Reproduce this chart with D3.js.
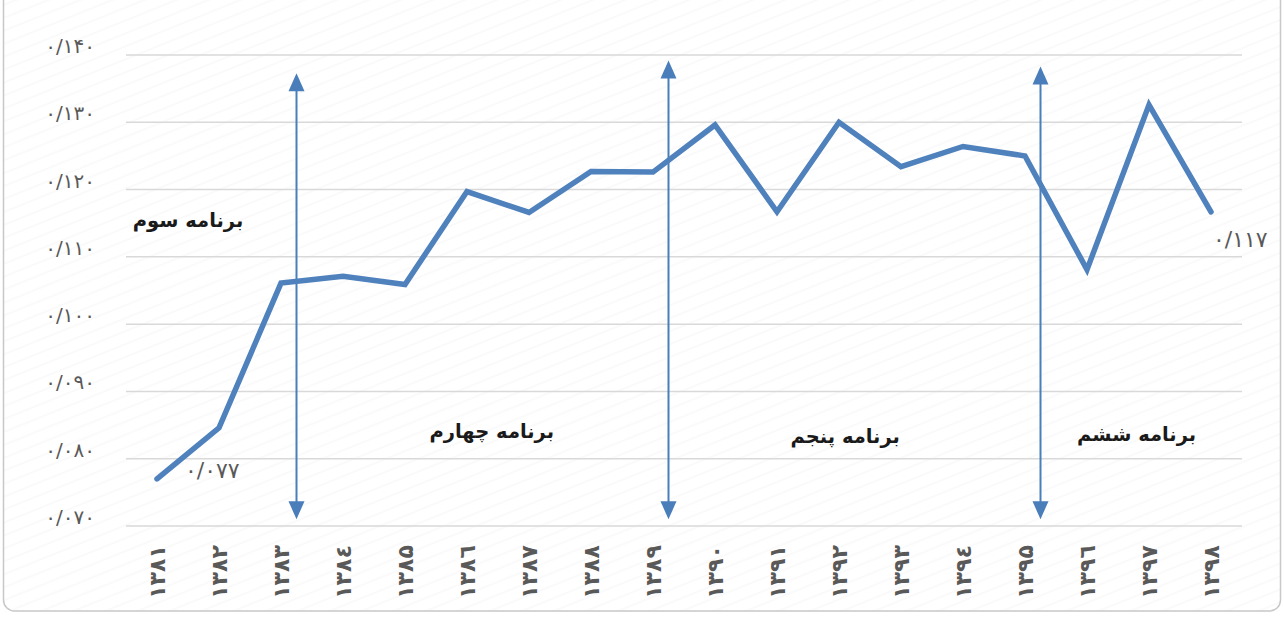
<!DOCTYPE html>
<html>
<head>
<meta charset="utf-8">
<script src="https://cdnjs.cloudflare.com/ajax/libs/d3/7.8.5/d3.min.js"></script>
<style>
  body { margin: 0; background: #fff; }
  text { font-family: "DejaVu Sans", sans-serif; }
</style>
</head>
<body>
<div id="vis"></div>
<script>
// years (Persian calendar)
const years = ["۱۳۸۱", "۱۳۸۲", "۱۳۸۳", "۱۳۸٤", "۱۳۸۵", "۱۳۸٦", "۱۳۸۷", "۱۳۸۸", "۱۳۸۹",
               "۱۳۹۰", "۱۳۹۱", "۱۳۹۲", "۱۳۹۳", "۱۳۹٤", "۱۳۹۵", "۱۳۹٦", "۱۳۹۷", "۱۳۹۸"];
const values = [0.077, 0.0846, 0.1061, 0.1071, 0.1059, 0.1197, 0.1166, 0.1227, 0.1226,
                0.1296, 0.1167, 0.1300, 0.1234, 0.1264, 0.1250, 0.1081, 0.1326, 0.1167];
const yTicks = [0.07, 0.08, 0.09, 0.10, 0.11, 0.12, 0.13, 0.14];
const yTickLabels = ["۰/۰۷۰", "۰/۰۸۰", "۰/۰۹۰", "۰/۱۰۰", "۰/۱۱۰", "۰/۱۲۰", "۰/۱۳۰", "۰/۱۴۰"];

// plan boundaries: arrow after year index, top value, bottom value
const arrowAfter = [2, 8, 14];
const arrowTop = [0.1373, 0.1392, 0.1383];
const arrowBottom = [0.0710, 0.0710, 0.0710];

// plan names, placed at (year position, value)
const planNames = ["برنامه سوم", "برنامه چهارم", "برنامه پنجم", "برنامه ششم"];
const planPos = [0.5, 5.4, 11.1, 15.8];
const planVal = [0.1154, 0.0841, 0.0834, 0.0837];

// data labels for first and last point
const endLabels = ["۰/۰۷۷", "۰/۱۱۷"];

const W = 1284, H = 624;
const margin = { top: 55, right: 42, bottom: 98, left: 126 },
    width = W - margin.left - margin.right,
    height = H - margin.top - margin.bottom;

const svgRoot = d3.select("#vis").append("svg")
    .attr("width", W).attr("height", H);

// faint diagonal hatch in the background
const defs = svgRoot.append("defs");
defs.append("pattern")
    .attr("id", "hatch")
    .attr("patternUnits", "userSpaceOnUse")
    .attr("width", 12).attr("height", 12)
    .attr("patternTransform", "rotate(-22)")
    .append("line")
    .attr("x1", 0).attr("y1", 6).attr("x2", 12).attr("y2", 6)
    .attr("stroke", "#f5f5f5").attr("stroke-width", 1);

svgRoot.append("rect")
    .attr("x", 3.5).attr("y", -10).attr("width", W - 7).attr("height", H - 3)
    .attr("rx", 11)
    .attr("fill", "url(#hatch)")
    .attr("stroke", "#c8c8c8").attr("stroke-width", 1.5);

const svg = svgRoot.append("g")
    .attr("transform", "translate(" + margin.left + "," + margin.top + ")");

const x = d3.scaleBand()
    .domain(d3.range(years.length))
    .range([0, width]);
const xc = i => x(i) + x.bandwidth() / 2;

const y = d3.scaleLinear()
    .domain([0.07, 0.14])
    .range([height, 0]);

// gridlines
svg.append("g")
    .selectAll("line")
    .data(yTicks)
    .enter()
    .append("line")
    .attr("x1", 0).attr("x2", width)
    .attr("y1", d => y(d)).attr("y2", d => y(d))
    .attr("stroke", "#d9d9d9").attr("stroke-width", 1.5);

// y axis labels
svg.append("g")
    .selectAll("text")
    .data(yTicks)
    .enter()
    .append("text")
    .attr("x", -31)
    .attr("y", d => y(d) - 9)
    .attr("dy", "0.35em")
    .attr("text-anchor", "end")
    .attr("fill", "#595959")
    .style("font-size", "20px")
    .text((d, i) => yTickLabels[i]);

// x axis labels (rotated)
svg.append("g")
    .selectAll("text")
    .data(years)
    .enter()
    .append("text")
    .attr("transform", (d, i) => "translate(" + xc(i) + "," + (height + 46) + ") rotate(-90)")
    .attr("dy", "0.35em")
    .attr("text-anchor", "middle")
    .attr("fill", "#595959")
    .style("font-size", "22px")
    .style("font-weight", "bold")
    .text(d => d);

// arrows
const arrowColor = "#4a7ebb";
const arrows = svg.append("g");
arrowAfter.forEach((a, i) => {
    const ax = xc(a) + x.bandwidth() * 0.25;
    const yt = y(arrowTop[i]), yb = y(arrowBottom[i]);
    arrows.append("line")
        .attr("x1", ax).attr("x2", ax)
        .attr("y1", yt + 15).attr("y2", yb - 15)
        .attr("stroke", arrowColor).attr("stroke-width", 2);
    arrows.append("path")
        .attr("d", `M${ax},${yt} L${ax - 8},${yt + 18} L${ax + 8},${yt + 18} Z`)
        .attr("fill", arrowColor);
    arrows.append("path")
        .attr("d", `M${ax},${yb} L${ax - 8},${yb - 18} L${ax + 8},${yb - 18} Z`)
        .attr("fill", arrowColor);
});

// the line
svg.append("path")
    .datum(values)
    .attr("fill", "none")
    .attr("stroke", "#4f81bd")
    .attr("stroke-width", 5.5)
    .attr("stroke-linejoin", "miter")
    .attr("stroke-linecap", "round")
    .attr("d", d3.line()
        .x((d, i) => xc(i))
        .y(d => y(d)));

// plan names
svg.append("g")
    .selectAll("text")
    .data(planNames)
    .enter()
    .append("text")
    .attr("x", (d, i) => xc(0) + planPos[i] * x.bandwidth())
    .attr("y", (d, i) => y(planVal[i]))
    .attr("dy", "0.35em")
    .attr("text-anchor", "middle")
    .attr("fill", "#1a1a1a")
    .style("font-size", "19.5px")
    .style("font-weight", "bold")
    .text(d => d);

// end labels
svg.append("text")
    .attr("x", xc(0) + 28).attr("y", y(values[0]) - 9)
    .attr("dy", "0.35em")
    .attr("text-anchor", "start")
    .attr("fill", "#595959")
    .style("font-size", "22px")
    .text(endLabels[0]);
svg.append("text")
    .attr("x", xc(years.length - 1) + 2).attr("y", y(values[years.length - 1]) + 28)
    .attr("dy", "0.35em")
    .attr("text-anchor", "start")
    .attr("fill", "#595959")
    .style("font-size", "22px")
    .text(endLabels[1]);
</script>
</body>
</html>
